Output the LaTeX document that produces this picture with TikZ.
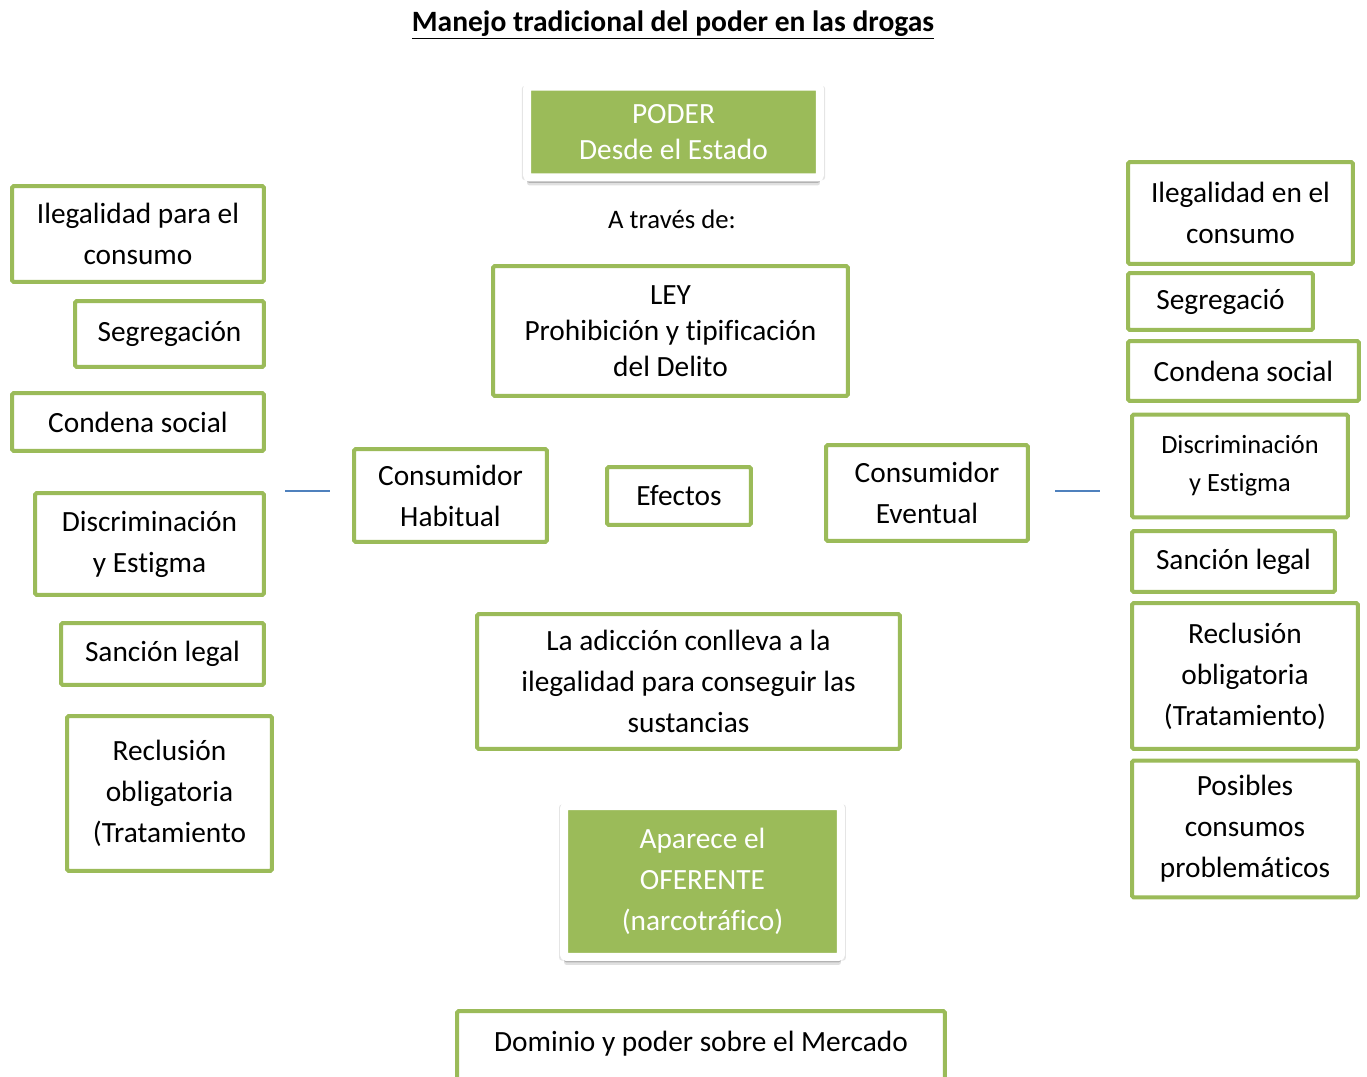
\documentclass[tikz,border=0pt]{standalone}
\usepackage{fontspec}
\setmainfont{Carlito}[Ligatures=NoCommon]
\usepackage{tikz}
\usetikzlibrary{shadows}
\definecolor{olivegreen}{HTML}{9BBB59}
\definecolor{lineblue}{HTML}{4F81BD}
\newcommand\drfont{\fontsize{16.7}{23.3}\selectfont}
\newcommand\drtight{\fontsize{16.7}{20.5}\selectfont}
\tikzset{
  dr box/.style={
    rectangle, rounded corners=1pt, draw=olivegreen, fill=white,
    line width=0.08cm, align=center, inner sep=0pt, font=\drfont
  },
  dr green/.style={
    rectangle, rounded corners=1.5pt, draw=white, fill=olivegreen,
    line width=0.16cm, align=center, inner sep=0pt, text=white,
    font=\drfont,
    drop shadow={shadow xshift=0pt, shadow yshift=-0.16cm, opacity=0.12, fill=black},
    drop shadow={shadow xshift=0pt, shadow yshift=-0.11cm, opacity=0.2, fill=black},
    drop shadow={shadow xshift=0pt, shadow yshift=-0.06cm, opacity=0.25, fill=black},
    drop shadow={shadow xshift=0pt, shadow yshift=-0.02cm, shadow scale=1.035, opacity=0.1, fill=black}
  },
  dr line/.style={
    draw=lineblue, line width=0.04cm
  }
}

\begin{document}
\begin{tikzpicture}[x=0.02cm, y=-0.02cm]
  \useasboundingbox (0,0) rectangle (1367,1077);

  \node (title) at (673,25) {\fontsize{16.8}{19}\selectfont\bfseries\underline{Manejo tradicional del poder en las drogas}};

  % centre column
  \node (poder) [dr green, font=\drtight, minimum width=5.86cm, minimum height=1.82cm] at (673.5,132) {PODER\\Desde el Estado};
  \node (trav) at (672,219) {\fontsize{15.2}{18}\selectfont A través de:};
  \node (ley) [dr box, font=\drtight, minimum width=7.10cm, minimum height=2.60cm] at (670.5,331) {LEY\\Prohibición y tipificación\\del Delito};
  \node (hab) [dr box, minimum width=3.86cm, minimum height=1.86cm] at (450.5,495.5) {Consumidor\\Habitual};
  \node (efec) [dr box, minimum width=2.88cm, minimum height=1.16cm] at (679,496) {Efectos};
  \node (even) [dr box, minimum width=4.04cm, minimum height=1.92cm] at (927,493) {Consumidor\\Eventual};
  \node (adic) [dr box, minimum width=8.46cm, minimum height=2.70cm] at (688.5,681.5) {La adicción conlleva a la\\ilegalidad para conseguir las\\sustancias};
  \node (ofer) [dr green, minimum width=5.54cm, minimum height=3.02cm] at (702.5,881.5) {Aparece el\\OFERENTE\\(narcotráfico)};
  \node (dom) [dr box, anchor=north, minimum width=9.76cm, text height=0.45cm, text depth=1.2cm, inner ysep=0.36cm] at (701,1009) {Dominio y poder sobre el Mercado};

  % left column
  \node (l1) [dr box, minimum width=5.04cm, minimum height=1.92cm] at (138,234) {Ilegalidad para el\\consumo};
  \node (l2) [dr box, minimum width=3.78cm, minimum height=1.32cm] at (169.5,334) {Segregación};
  \node (l3) [dr box, minimum width=5.04cm, minimum height=1.16cm] at (138,422) {Condena social};
  \node (l4) [dr box, minimum width=4.58cm, minimum height=2.04cm] at (149.5,544) {Discriminación\\y Estigma};
  \node (l5) [dr box, minimum width=4.06cm, minimum height=1.24cm] at (162.5,654) {Sanción legal};
  \node (l6) [dr box, minimum width=4.10cm, minimum height=3.10cm] at (169.5,793.5) {Reclusión\\obligatoria\\(Tratamiento};

  % right column
  \node (r1) [dr box, minimum width=4.50cm, minimum height=2.04cm] at (1240.5,213) {Ilegalidad en el\\consumo};
  \node (r2) [dr box, minimum width=3.70cm, minimum height=1.14cm] at (1220.5,301.5) {Segregació};
  \node (r3) [dr box, minimum width=4.62cm, minimum height=1.20cm] at (1243.5,371) {Condena social};
  \node (r4) [dr box, font=\fontsize{15}{21.5}\selectfont, minimum width=4.32cm, minimum height=2.06cm] at (1240,466) {Discriminación\\y Estigma};
  \node (r5) [dr box, minimum width=4.06cm, minimum height=1.22cm] at (1233.5,561.5) {Sanción legal};
  \node (r6) [dr box, minimum width=4.52cm, minimum height=2.92cm] at (1245,676) {Reclusión\\obligatoria\\(Tratamiento)};
  \node (r7) [dr box, minimum width=4.52cm, minimum height=2.74cm] at (1245,829) {Posibles\\consumos\\problemáticos};

  % short blue strokes
  \coordinate (bla) at (285,491);
  \coordinate (blb) at (330,491);
  \coordinate (bra) at (1055,491);
  \coordinate (brb) at (1100,491);
  \draw [dr line] (bla) -- (blb);
  \draw [dr line] (bra) -- (brb);
\end{tikzpicture}
\end{document}
